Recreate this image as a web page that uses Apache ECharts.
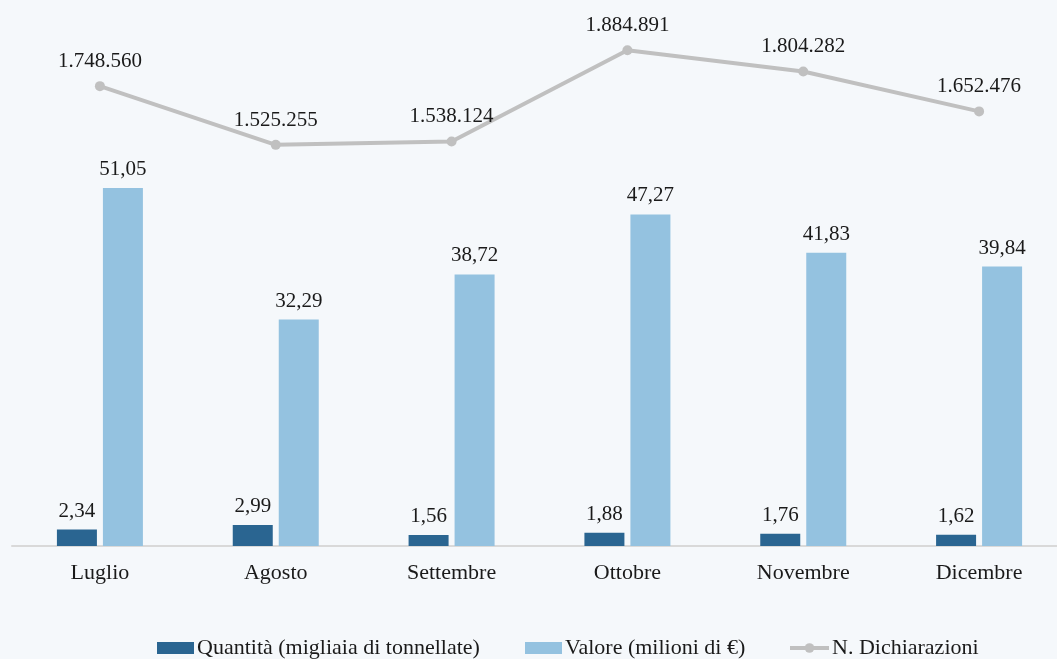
<!DOCTYPE html>
<html><head><meta charset="utf-8">
<script src="https://cdn.jsdelivr.net/npm/echarts@6/dist/echarts.min.js"></script>
<style>html,body{margin:0;padding:0;background:#f5f8fb;}#c{width:1057px;height:659px;}</style>
</head><body><div id="c"></div>
<script>
const categories = ['Luglio','Agosto','Settembre','Ottobre','Novembre','Dicembre'];
const quantita = [2.34, 2.99, 1.56, 1.88, 1.76, 1.62];
const valore = [51.05, 32.29, 38.72, 47.27, 41.83, 39.84];
const dichiarazioni = [1748560, 1525255, 1538124, 1884891, 1804282, 1652476];

const FONT = '"Liberation Serif", "DejaVu Serif", serif';
const fmtDec = v => v.toFixed(2).replace('.', ',');
const fmtInt = v => String(Math.round(v)).replace(/\B(?=(\d{3})+(?!\d))/g, '.');

const legendText = { fontFamily: FONT, fontSize: 22, color: '#1a1a1a', padding: [0,0,0,-2] };
const mkLegend = (name, left, icon) => {
  const l = {
    bottom: 0, left: left, padding: 0, itemWidth: icon === 'rect' ? 37 : 39, itemHeight: 12,
    textStyle: legendText, data: [icon ? { name: name, icon: icon } : { name: name }]
  };
  if (!icon) { l.lineStyle = { width: 4 }; }
  return l;
};

const chart = echarts.init(document.getElementById('c'));
chart.setOption({
  backgroundColor: '#f5f8fb',
  textStyle: { fontFamily: FONT },
  grid: { left: 12, width: 1055, top: 20, bottom: 113, containLabel: false, outerBoundsMode: 'none' },
  legend: [
    mkLegend('Quantità (migliaia di tonnellate)', 157, 'rect'),
    mkLegend('Valore (milioni di €)', 525, 'rect'),
    mkLegend('N. Dichiarazioni', 788, null)
  ],
  xAxis: {
    type: 'category', data: categories,
    axisLine: { lineStyle: { color: '#d9d9d9', width: 2 } },
    axisTick: { show: false },
    axisLabel: { fontFamily: FONT, fontSize: 22, color: '#1a1a1a', margin: 16 }
  },
  yAxis: [
    { type: 'value', min: 0, max: 75, show: false, splitLine: { show: false } },
    { type: 'value', min: 0, max: 2000000, show: false, splitLine: { show: false } }
  ],
  series: [
    {
      name: 'Quantità (migliaia di tonnellate)', type: 'bar', data: quantita,
      barWidth: 40, barGap: '15%', itemStyle: { color: '#2a6591' },
      label: { show: true, position: 'top', distance: 8, formatter: p => fmtDec(p.value),
        fontFamily: FONT, fontSize: 21, color: '#1a1a1a' }
    },
    {
      name: 'Valore (milioni di €)', type: 'bar', data: valore,
      barWidth: 40, barGap: '15%', itemStyle: { color: '#94c2e0' },
      label: { show: true, position: 'top', distance: 8, formatter: p => fmtDec(p.value),
        fontFamily: FONT, fontSize: 21, color: '#1a1a1a' }
    },
    {
      name: 'N. Dichiarazioni', type: 'line', yAxisIndex: 1, data: dichiarazioni,
      symbol: 'circle', symbolSize: 10,
      lineStyle: { color: '#c0c0c0', width: 4 },
      itemStyle: { color: '#c0c0c0' },
      label: { show: true, position: 'top', distance: 9, formatter: p => fmtInt(p.value),
        fontFamily: FONT, fontSize: 21, color: '#1a1a1a' }
    }
  ]
});
</script></body></html>
